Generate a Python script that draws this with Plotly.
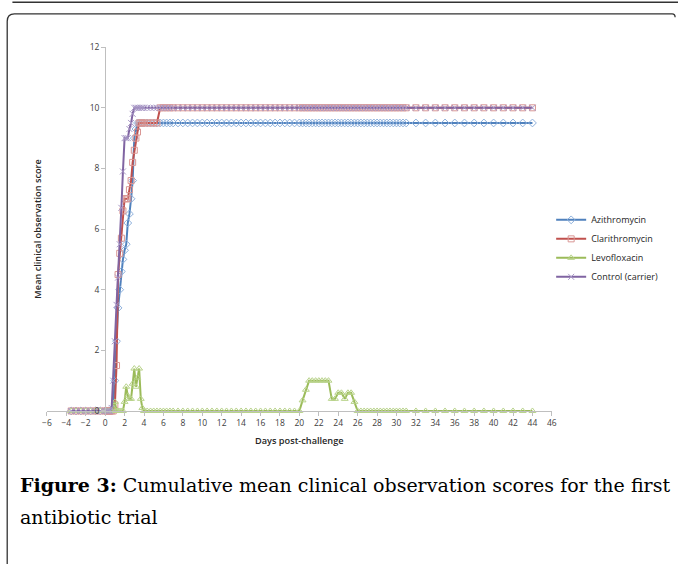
import plotly.graph_objects as go

W, H = 678, 564          # reference picture size (positions below are in its pixels)
S, CX, CY, SHIFT = 0.986, 4.5, 4.5, 6.0   # observed page->picture scaling compensation
FW, FH = 692, 576        # figure size

# ---- data ----
days = [-3.5, -3, -2.5, -2, -1.5, -1, -0.5, 0,
        0.17, 0.33, 0.5, 0.67, 0.83, 1,
        1.17, 1.33, 1.5, 1.67, 1.83, 2,
        2.17, 2.33, 2.5, 2.67, 2.83, 3,
        3.17, 3.33, 3.5, 3.67, 3.83, 4,
        4.33, 4.67, 5, 5.33, 5.67, 6, 6.33, 6.67, 7,
        7.5, 8, 8.5, 9, 9.5, 10, 10.5, 11, 11.5, 12, 12.5, 13, 13.5,
        14, 14.5, 15, 15.5, 16, 16.5, 17, 17.5, 18, 18.5, 19, 19.5, 20,
        20.33, 20.67, 21, 21.33, 21.67, 22, 22.33, 22.67, 23,
        23.33, 23.67, 24, 24.33, 24.67, 25, 25.33, 25.67, 26,
        26.33, 26.67, 27, 27.33, 27.67, 28, 28.33, 28.67, 29,
        29.33, 29.67, 30, 30.33, 30.67, 31,
        32, 33, 34, 35, 36, 37, 38, 39, 40, 41, 42, 43, 44]

azithromycin = [0, 0, 0, 0, 0, 0, 0, 0,
                0, 0, 0, 0, 0.1, 1.0,
                2.3, 3.4, 4.0, 4.6, 5.0, 5.3,
                5.5, 6.2, 6.5, 7.0, 7.6, 9.0,
                9.3, 9.5, 9.5, 9.5, 9.5, 9.5,
                9.5, 9.5, 9.5, 9.5, 9.5, 9.5, 9.5, 9.5, 9.5,
                9.5, 9.5, 9.5, 9.5, 9.5, 9.5, 9.5, 9.5, 9.5, 9.5, 9.5, 9.5, 9.5,
                9.5, 9.5, 9.5, 9.5, 9.5, 9.5, 9.5, 9.5, 9.5, 9.5, 9.5, 9.5, 9.5,
                9.5, 9.5, 9.5, 9.5, 9.5, 9.5, 9.5, 9.5, 9.5,
                9.5, 9.5, 9.5, 9.5, 9.5, 9.5, 9.5, 9.5, 9.5,
                9.5, 9.5, 9.5, 9.5, 9.5, 9.5, 9.5, 9.5, 9.5,
                9.5, 9.5, 9.5, 9.5, 9.5, 9.5,
                9.5, 9.5, 9.5, 9.5, 9.5, 9.5, 9.5, 9.5, 9.5, 9.5, 9.5, 9.5, 9.5]

clarithromycin = [0, 0, 0, 0, 0, 0, 0, 0,
                  0, 0, 0, 0, 0, 0.2,
                  1.5, 4.5, 5.2, 5.7, 6.6, 7.0,
                  7.0, 7.0, 7.3, 7.6, 8.2, 8.6,
                  9.0, 9.2, 9.5, 9.5, 9.5, 9.5,
                  9.5, 9.5, 9.5, 9.5, 10, 10, 10, 10, 10,
                  10, 10, 10, 10, 10, 10, 10, 10, 10, 10, 10, 10, 10,
                  10, 10, 10, 10, 10, 10, 10, 10, 10, 10, 10, 10, 10,
                  10, 10, 10, 10, 10, 10, 10, 10, 10,
                  10, 10, 10, 10, 10, 10, 10, 10, 10,
                  10, 10, 10, 10, 10, 10, 10, 10, 10,
                  10, 10, 10, 10, 10, 10,
                  10, 10, 10, 10, 10, 10, 10, 10, 10, 10, 10, 10, 10]

levofloxacin = [0, 0, 0, 0, 0, 0, 0, 0,
                0, 0, 0, 0, 0.1, 0.3,
                0, 0, 0, 0, 0, 0.3,
                0.8, 0.5, 0.4, 0.4, 0.9, 1.4,
                0.8, 1.1, 1.4, 0.4, 0.1, 0,
                0, 0, 0, 0, 0, 0, 0, 0, 0,
                0, 0, 0, 0, 0, 0, 0, 0, 0, 0, 0, 0, 0,
                0, 0, 0, 0, 0, 0, 0, 0, 0, 0, 0, 0, 0,
                0.35, 0.7, 1, 1, 1, 1, 1, 1, 1,
                0.4, 0.4, 0.6, 0.6, 0.4, 0.6, 0.6, 0.3, 0,
                0, 0, 0, 0, 0, 0, 0, 0, 0,
                0, 0, 0, 0, 0, 0,
                0, 0, 0, 0, 0, 0, 0, 0, 0, 0, 0, 0, 0]

control = [0, 0, 0, 0, 0, 0, 0, 0,
           0, 0, 0, 0.1, 1.0, 2.3,
           3.5, 4.4, 5.5, 6.7, 7.9, 9.0,
           9.0, 9.0, 9.3, 9.5, 9.8, 10,
           10, 10, 10, 10, 10, 10,
           10, 10, 10, 10, 10, 10, 10, 10, 10,
           10, 10, 10, 10, 10, 10, 10, 10, 10, 10, 10, 10, 10,
           10, 10, 10, 10, 10, 10, 10, 10, 10, 10, 10, 10, 10,
           10, 10, 10, 10, 10, 10, 10, 10, 10,
           10, 10, 10, 10, 10, 10, 10, 10, 10,
           10, 10, 10, 10, 10, 10, 10, 10, 10,
           10, 10, 10, 10, 10, 10,
           10, 10, 10, 10, 10, 10, 10, 10, 10, 10, 10, 10, 10]

series_names = ["Azithromycin", "Clarithromycin", "Levofloxacin", "Control (carrier)"]
x_ticks = list(range(-6, 47, 2))
y_ticks = list(range(0, 13, 2))

# ---- styling ----
line_colors = ["#4F81BD", "#C0504D", "#9BBB59", "#8064A2"]
marker_colors = ["#8DB0DC", "#D99694", "#B8D38A", "#A898C6"]
symbols = ["diamond-open", "square-open", "triangle-up-open", "x-thin-open"]


def px(x):
    return ((x - CX) / S + SHIFT) / FW


def py(y):
    return 1 - ((y - CY) / S + SHIFT) / FH


fig = go.Figure()
for name, vals, lc, mc, sym in zip(series_names,
                                   [azithromycin, clarithromycin, levofloxacin, control],
                                   line_colors, marker_colors, symbols):
    fig.add_trace(go.Scatter(
        x=days, y=vals, name=name, mode="lines+markers",
        line=dict(color=lc, width=2),
        marker=dict(symbol=sym, size=6, color=mc, line=dict(color=mc, width=1)),
        cliponaxis=False,
    ))

tick_font = dict(family="Open Sans", size=8.5, color="#404040")

fig.update_layout(
    width=FW, height=FH, autosize=False,
    margin=dict(l=0, r=0, t=0, b=0),
    paper_bgcolor="white", plot_bgcolor="rgba(0,0,0,0)",
    showlegend=True,
    legend=dict(x=px(551), y=py(205), xanchor="left", yanchor="top",
                font=dict(family="Open Sans", size=9, color="#262626"),
                bgcolor="rgba(0,0,0,0)", itemwidth=30, tracegroupgap=0),
    xaxis=dict(domain=[px(46.5), px(551.7)], range=[-6, 46],
               tickvals=x_ticks, ticks="outside", ticklen=4, tickcolor="#bfbfbf",
               showline=True, linecolor="#bfbfbf", linewidth=1,
               showgrid=False, zeroline=False, tickfont=tick_font, anchor="y"),
    yaxis=dict(domain=[py(411.7), py(46)], range=[0, 12],
               tickvals=y_ticks, ticks="outside", ticklen=4, tickcolor="#bfbfbf",
               showline=True, linecolor="#bfbfbf", linewidth=1,
               showgrid=False, zeroline=False, tickfont=tick_font,
               anchor="free", position=px(104.8)),
)

axis_title_font = dict(family="Open Sans", size=9.2, color="#262626", weight=600)
fig.add_annotation(text="Days post-challenge", xref="paper", yref="paper",
                   x=px(299.5), y=py(441), showarrow=False, font=axis_title_font,
                   xanchor="center", yanchor="middle")
fig.add_annotation(text="Mean clinical observation score", xref="paper", yref="paper",
                   x=px(37.5), y=py(228.5), showarrow=False, font=axis_title_font,
                   textangle=-90, xanchor="center", yanchor="middle")

cap_font = dict(family="DejaVu Serif", size=19, color="#000000")
fig.add_annotation(text="<b>Figure 3:</b> Cumulative mean clinical observation scores for the first",
                   xref="paper", yref="paper", x=px(18), y=py(486.5),
                   showarrow=False, font=cap_font, xanchor="left", yanchor="middle")
fig.add_annotation(text="antibiotic trial",
                   xref="paper", yref="paper", x=px(18), y=py(518),
                   showarrow=False, font=cap_font, xanchor="left", yanchor="middle")

# frame
fig.add_shape(type="line", xref="paper", yref="paper",
              x0=px(12), x1=px(680), y0=py(0.8), y1=py(0.8),
              line=dict(color="#333333", width=1.5))
path = (f"M {px(6.8)},{py(570)} L {px(6.8)},{py(20)} "
        f"Q {px(6.8)},{py(12.5)} {px(14)},{py(12.5)} "
        f"L {px(672)},{py(12.5)} Q {px(675)},{py(12.5)} {px(675)},{py(16)}")
fig.add_shape(type="path", xref="paper", yref="paper", path=path,
              line=dict(color="#333333", width=1.3))

fig.write_html("out.html",
               config=dict(displayModeBar=False, responsive=False),
               post_script="document.body.style.margin='0';document.body.style.padding='0';"
                           "document.documentElement.style.margin='0';"
                           "document.documentElement.style.overflow='hidden';"
                           "var d=document.getElementsByClassName('plotly-graph-div')[0];"
                           "d.style.position='absolute';d.style.left='-6px';d.style.top='-6px';")
